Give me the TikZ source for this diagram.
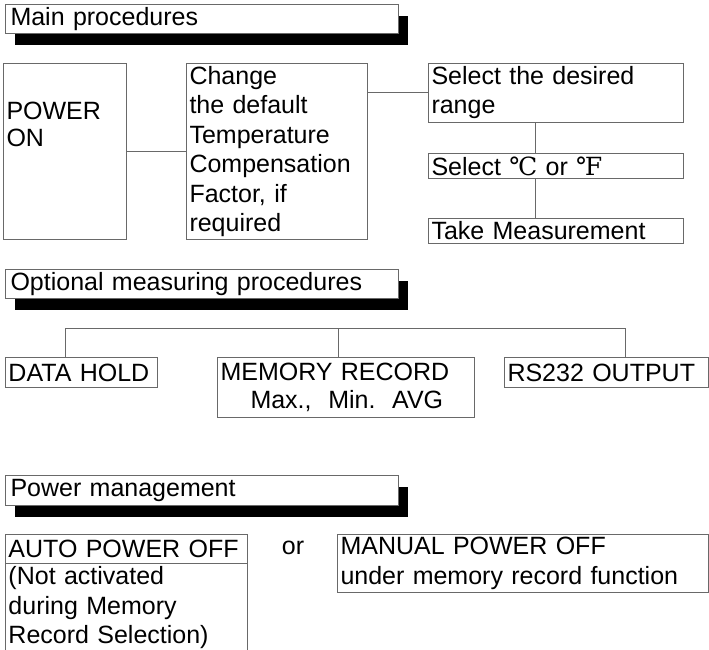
\documentclass[tikz,border=0pt]{standalone}
\usepackage{fontspec}
\setmainfont{Liberation Sans}
\newfontfamily\degfont{DejaVu Serif}
\usepackage{tikz}
\usetikzlibrary{shadows, positioning, calc}
\definecolor{myframe}{RGB}{105,105,105}
\tikzset{
  box/.style={rectangle, draw=myframe, fill=white, anchor=north west,
    align=left, inner xsep=3pt, inner ysep=0pt, line width=1pt,
    font=\fontsize{25}{27}\selectfont},
  titlebox/.style={box, inner xsep=5pt, text width=383pt, minimum height=29pt,
    drop shadow={shadow xshift=9.5pt, shadow yshift=-11.5pt, fill=black, opacity=1}},
  line/.style={line width=1pt, color=myframe}
}

\begin{document}
\begin{tikzpicture}[x=1pt, y=-1pt]
  \useasboundingbox (0,0) rectangle (709,650);
  \clip (0,0) rectangle (709,650);

  % Main procedures
  \node[titlebox] (t_main) at (5,4) {Main procedures};
  \node[box, text width=117pt, minimum height=176pt] (power) at (3,63) {POWER\\ON\\~\\~};
  \node[box, text width=175pt, minimum height=176pt, font=\fontsize{25}{29.5}\selectfont] (change) at (186,63)
    {Change\\the default\\Temperature\\Compensation\\Factor, if\\required};
  \node[box, text width=249pt, minimum height=59pt, font=\fontsize{25}{29}\selectfont] (range) at (428,63)
    {Select the desired\\range};
  \node[box, text width=249pt, minimum height=25pt] (unit) at (428,153)
    {Select {\degfont ℃} or {\degfont ℉}};
  \node[box, text width=249pt, minimum height=25pt] (measure) at (428,218) {Take Measurement};

  \draw[line] (power.east) -- (change.west);
  \draw[line] (change.east |- range.west) -- (range.west);
  \draw[line] ([xshift=-21pt]range.south) -- ([xshift=-21pt]unit.north);
  \draw[line] ([xshift=-21pt]unit.south) -- ([xshift=-21pt]measure.north);

  % Optional measuring procedures
  \node[titlebox] (t_opt) at (5,269) {Optional measuring procedures};
  \node[box, text width=146pt, minimum height=30pt] (hold) at (5,357) {DATA HOLD};
  \node[box, text width=251pt, minimum height=60pt, font=\fontsize{25}{28}\selectfont] (mem) at (217,357)
    {MEMORY RECORD\\\hspace*{30pt}Max.,\ \ Min.\ \ AVG};
  \node[box, text width=198pt, minimum height=30pt] (rs) at (504,357) {RS232 OUTPUT};

  % Bus
  \coordinate (busL) at (65,328);
  \coordinate (busM) at (338,328);
  \coordinate (busR) at (625,328);
  \draw[line] (hold.north -| busL) -- (busL) -- (busR) -- (rs.north -| busR);
  \draw[line] (busM) -- (mem.north -| busM);

  % Power management
  \node[titlebox, minimum height=30pt] (t_pow) at (5,475) {Power management};
  \node[box, text width=236pt, minimum height=29pt] (autohead) at (5,534) {AUTO POWER OFF};
  \node[box, text width=236pt, minimum height=89pt, font=\fontsize{25}{29.5}\selectfont] (autobody) at (5,563)
    {(Not activated\\during Memory\\Record Selection)};
  \node[font=\fontsize{25}{27}\selectfont] (orlabel) at (293,548) {or};
  \node[box, text width=365pt, minimum height=58pt, font=\fontsize{25}{30}\selectfont] (manual) at (337,534)
    {MANUAL POWER OFF\\under memory record function};
\end{tikzpicture}
\end{document}
